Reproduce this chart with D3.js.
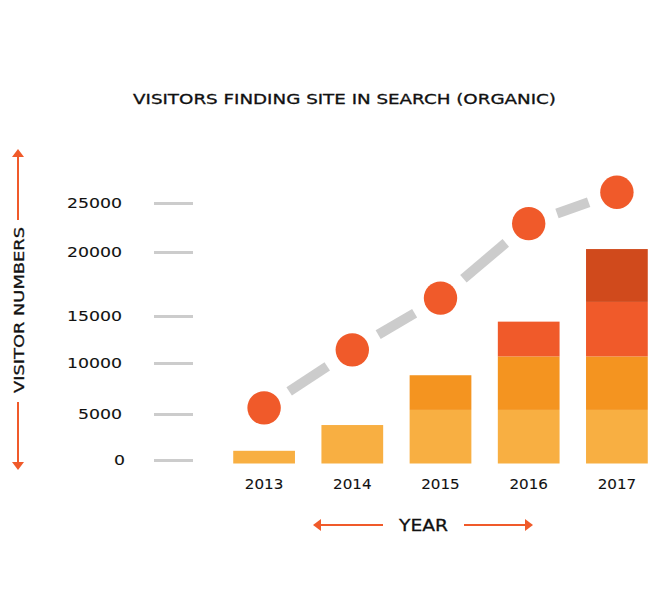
<!DOCTYPE html>
<html>
<head>
<meta charset="utf-8">
<script src="https://cdn.jsdelivr.net/npm/d3@7"></script>
<style>
  html, body { margin: 0; padding: 0; background: #fff; }
  svg { display: block; }
  text { font-family: "DejaVu Sans", sans-serif; fill: #111; stroke: #111; stroke-width: 0.3px; }
  .tick text { stroke-width: 0.1px; }
</style>
</head>
<body>
<svg id="chart" width="670" height="600"></svg>
<script>
// ---- data ----
const years = ["2013", "2014", "2015", "2016", "2017"];
const seriesA = [1000, 3800, 5400, 5400, 5400];
const seriesB = [0, 0, 3400, 5300, 5300];
const seriesC = [0, 0, 0, 3700, 5400];
const seriesD = [0, 0, 0, 0, 4200];
const visitors = [5600, 11400, 16400, 22900, 26100];
const yTicks = [0, 5000, 10000, 15000, 20000, 25000];
const seriesColors = ["#F8AF42", "#F49420", "#F05A2A", "#D04A1C"];
const titleText = "VISITORS FINDING SITE IN SEARCH (ORGANIC)";
const yTitle = "VISITOR NUMBERS";
const xTitle = "YEAR";

// ---- setup ----
const svg = d3.select("#chart");
const ORANGE = "#F05A2A";
const GRAY = "#CCCCCC";
const charW = 11;      // wide geometric face: ~11px per digit
const yearW = 38.5;

const x = d3.scaleBand().domain(years).range([220, 661]).paddingInner(0.3).paddingOuter(0.15);
// the reference axis is spaced unevenly: piecewise linear scale through tick values
const y = d3.scaleLinear().domain(yTicks).range([460, 414, 363, 316, 252, 203]);
const baseDrop = 3.5;

const table = years.map((yr, i) => ({ year: yr, a: seriesA[i], b: seriesB[i], c: seriesC[i], d: seriesD[i] }));
const stack = d3.stack().keys(["a", "b", "c", "d"]);
const layers = stack(table);

// title
svg.append("text")
  .attr("x", 133).attr("y", 104)
  .attr("textLength", 423).attr("lengthAdjust", "spacingAndGlyphs")
  .style("font-size", "14px")
  .text(titleText);

// y axis
const yAxis = d3.axisLeft(y).tickValues(yTicks).tickSize(39).tickPadding(32).tickFormat(d3.format("d"));
const gy = svg.append("g").attr("transform", "translate(193,0)").call(yAxis);
gy.select(".domain").remove();
gy.selectAll(".tick line").attr("stroke", GRAY).attr("stroke-width", 3);
gy.selectAll(".tick text")
  .attr("text-anchor", "start")
  .attr("fill", "#111")
  .attr("textLength", function () { return this.textContent.length * charW; })
  .attr("lengthAdjust", "spacingAndGlyphs")
  .attr("x", function () { return -71 - this.textContent.length * charW + (this.textContent.length === 1 ? 3 : 0); })
  .style("font-size", "14px")
  .style("font-family", "DejaVu Sans, sans-serif");

// bars
svg.append("g").selectAll("g").data(layers).join("g")
  .attr("fill", (d, i) => seriesColors[i])
  .selectAll("rect").data(d => d.filter(p => p[1] > p[0])).join("rect")
  .attr("x", d => x(d.data.year))
  .attr("width", x.bandwidth())
  .attr("y", d => y(d[1]))
  .attr("height", d => (y(d[0]) + (d[0] === 0 ? baseDrop : 0)) - y(d[1]));

// x axis labels
const xAxis = d3.axisBottom(x).tickSize(0).tickPadding(0);
const gx = svg.append("g").attr("transform", "translate(0,489)").call(xAxis);
gx.select(".domain").remove();
gx.selectAll(".tick text")
  .attr("dy", null)
  .attr("text-anchor", "start")
  .attr("x", -yearW / 2)
  .attr("textLength", yearW).attr("lengthAdjust", "spacingAndGlyphs")
  .attr("fill", "#111")
  .style("font-size", "14px")
  .style("font-family", "DejaVu Sans, sans-serif");

// dashed connector between dots
const pts = years.map((yr, i) => [x(yr) + x.bandwidth() / 2, y(visitors[i])]);
const trim = 30;
const segs = d3.pairs(pts).map(([p, q]) => {
  const dx = q[0] - p[0], dy = q[1] - p[1];
  const L = Math.hypot(dx, dy);
  const ux = dx / L, uy = dy / L;
  return [[p[0] + ux * trim, p[1] + uy * trim], [q[0] - ux * trim, q[1] - uy * trim]];
});
svg.append("g").selectAll("line").data(segs).join("line")
  .attr("x1", d => d[0][0]).attr("y1", d => d[0][1])
  .attr("x2", d => d[1][0]).attr("y2", d => d[1][1])
  .attr("stroke", GRAY).attr("stroke-width", 10);

// dots
svg.append("g").selectAll("circle").data(pts).join("circle")
  .attr("cx", d => d[0]).attr("cy", d => d[1]).attr("r", 16.7)
  .attr("fill", ORANGE);

// arrows
function arrowHead(g, tx, ty, angle) {
  g.append("path")
    .attr("d", "M0,0 L-6,8 L6,8 Z")
    .attr("fill", ORANGE)
    .attr("transform", `translate(${tx},${ty}) rotate(${angle})`);
}
const ga = svg.append("g");
// vertical
ga.append("line").attr("x1", 18).attr("x2", 18).attr("y1", 152).attr("y2", 220).attr("stroke", ORANGE).attr("stroke-width", 2);
ga.append("line").attr("x1", 18).attr("x2", 18).attr("y1", 402).attr("y2", 467).attr("stroke", ORANGE).attr("stroke-width", 2);
arrowHead(ga, 18, 149, 0);
arrowHead(ga, 18, 470, 180);
// horizontal
ga.append("line").attr("x1", 316).attr("x2", 383).attr("y1", 525).attr("y2", 525).attr("stroke", ORANGE).attr("stroke-width", 2);
ga.append("line").attr("x1", 464).attr("x2", 530).attr("y1", 525).attr("y2", 525).attr("stroke", ORANGE).attr("stroke-width", 2);
arrowHead(ga, 313, 525, -90);
arrowHead(ga, 533, 525, 90);

// axis titles
svg.append("text")
  .attr("transform", "translate(24,393) rotate(-90)")
  .attr("textLength", 166).attr("lengthAdjust", "spacingAndGlyphs")
  .style("font-size", "14.5px")
  .text(yTitle);
svg.append("text")
  .attr("x", 399).attr("y", 531)
  .attr("textLength", 49).attr("lengthAdjust", "spacingAndGlyphs")
  .style("font-size", "16px")
  .text(xTitle);
</script>
</body>
</html>
